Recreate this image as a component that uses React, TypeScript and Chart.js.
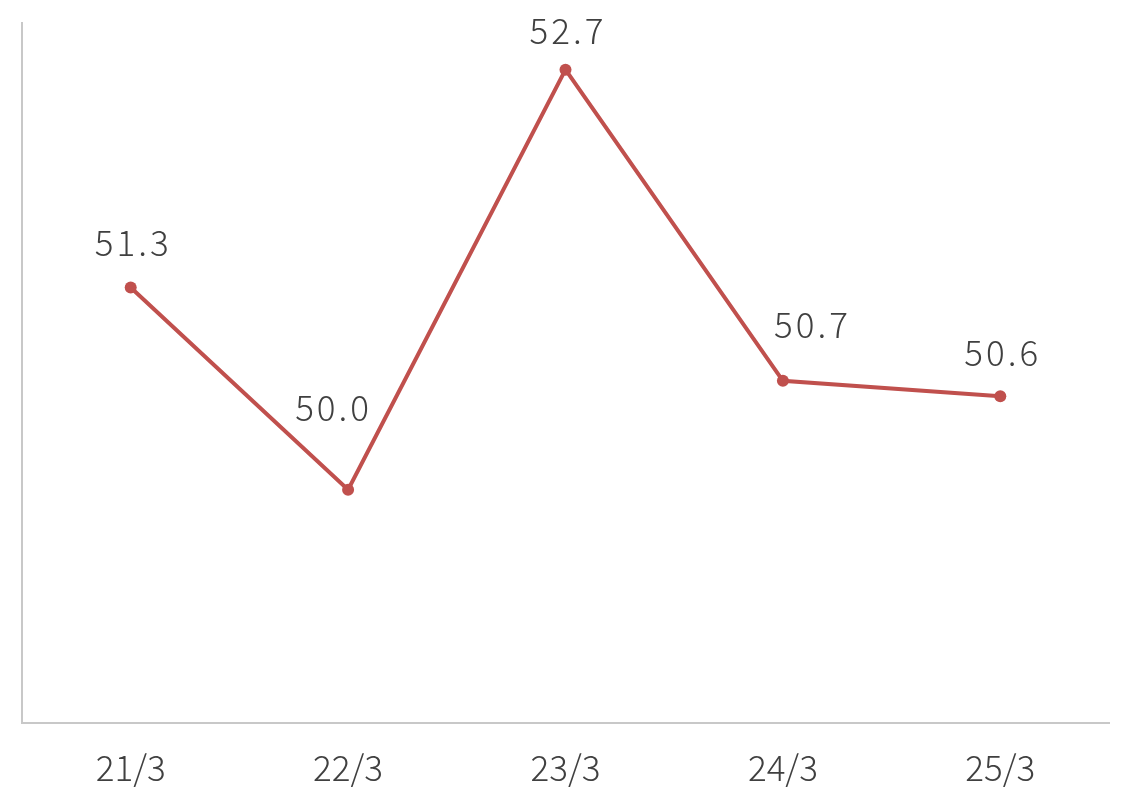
import React, { useEffect, useRef } from "react";
import { Chart, registerables } from "chart.js";

Chart.register(...registerables);

const categories = ["21/3", "22/3", "23/3", "24/3", "25/3"];
const values = [51.3, 50.0, 52.7, 50.7, 50.6];
const valueLabels = ["51.3", "50.0", "52.7", "50.7", "50.6"];

const FONT = "'Noto Sans CJK SC', 'DejaVu Sans Mono', sans-serif";

const labelPlugin = {
  id: "valueLabels",
  afterDatasetsDraw(chart: any, _args: any, opts: any) {
    const ctx = chart.ctx;
    const meta = chart.getDatasetMeta(0);
    const shifts: number[][] = opts.shifts || [];
    ctx.save();
    ctx.font = `300 35px ${FONT}`;
    (ctx as any).letterSpacing = "3px";
    ctx.fillStyle = "#404040";
    ctx.textAlign = "center";
    ctx.textBaseline = "middle";
    meta.data.forEach((pt: any, i: number) => {
      const s = shifts[i] || [0, -42];
      ctx.fillText(valueLabels[i], pt.x + s[0] + 1.5, pt.y + s[1]);
    });
    ctx.restore();
  },
};

export default function App() {
  const ref = useRef<HTMLCanvasElement>(null);
  useEffect(() => {
    if (!ref.current) return;
    const chart = new Chart(ref.current, {
      type: "line",
      data: {
        labels: categories,
        datasets: [
          {
            data: values,
            borderColor: "#C0504D",
            backgroundColor: "#C0504D",
            borderWidth: 4,
            pointRadius: 6,
            pointBackgroundColor: "#C0504D",
            pointBorderWidth: 0,
            tension: 0,
          },
        ],
      },
      options: {
        animation: false,
        responsive: false,
        maintainAspectRatio: false,
        layout: { padding: { left: 22, right: 24, top: 23, bottom: 0 } },
        plugins: {
          legend: { display: false },
          tooltip: { enabled: false },
          valueLabels: {
            shifts: [
              [1, -45],
              [-16, -82],
              [1, -39],
              [28, -56],
              [1, -44],
            ],
          },
        } as any,
        scales: {
          x: {
            offset: true,
            grid: { display: false, drawTicks: false },
            border: { display: true, color: "#C8C8C8", width: 2 },
            ticks: {
              padding: 24,
              color: "#404040",
              font: { family: FONT, size: 35, weight: 300 as any },
            },
            afterFit: (s: any) => {
              s.height = 80;
            },
          },
          y: {
            min: 48.5,
            max: 53,
            grid: { display: false, drawTicks: false },
            border: { display: true, color: "#C8C8C8", width: 2 },
            ticks: { display: false },
            afterFit: (s: any) => {
              s.width = 0;
            },
          },
        },
      },
      plugins: [labelPlugin],
    });
    return () => chart.destroy();
  }, []);
  return (
    <div style={{ position: "fixed", left: 0, top: 0, width: 1133, height: 803, background: "#fff" }}>
      <canvas ref={ref} width={1133} height={803} />
    </div>
  );
}
